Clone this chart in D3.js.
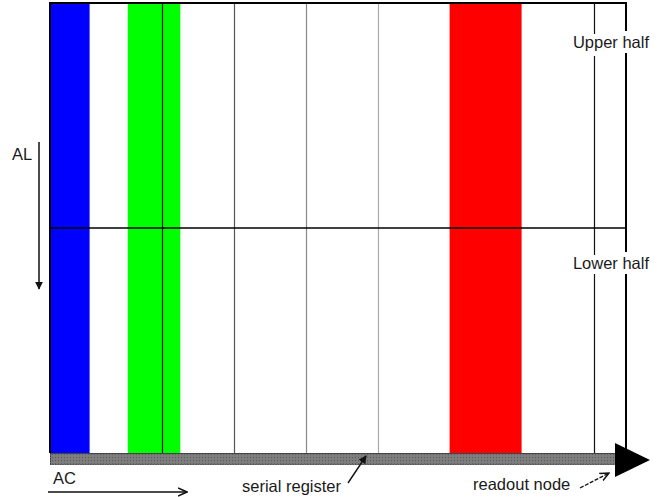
<!DOCTYPE html>
<html>
<head>
<meta charset="utf-8">
<script src="https://cdn.jsdelivr.net/npm/d3@7"></script>
<style>
  html, body { margin: 0; padding: 0; background: #fff; }
  svg { display: block; }
  text { font-family: "Liberation Sans", Arial, sans-serif; fill: #1a1a1a; }
</style>
</head>
<body>
<svg id="chart" width="661" height="497"></svg>
<script>
// ---- data ----
// column grid in column units (boundary k = k-th pixel column edge)
const frameDomain = [-0.55, 7.45];
const rowDomain = [0, 2];
const halves = ["Upper half", "Lower half"];
const halfRows = [0, 1];
// coloured pixel columns: [start, end] in column units
const bandNames = ["blue", "green", "red"];
const bandStart = [-0.55, 0.53, 5];
const bandEnd = [0, 1.26, 6];
const bandColors = ["#0000ff", "#00ff00", "#ff0000"];
// column boundary lines
const gridPos = [1, 2, 3, 4, 7];
const gridColors = ["#111", "#555", "#888", "#aaa", "#111"];
// annotation labels
const axisLabels = ["AL", "AC"];
const registerLabels = ["serial register", "readout node"];

// ---- layout ----
const svg = d3.select("#chart");
const mLeft = 50, mRight = 626, mTop = 3, mBottom = 453;
const x = d3.scaleLinear().domain(frameDomain).range([mLeft, mRight]);
const y = d3.scaleLinear().domain(rowDomain).range([mTop, mBottom]);

const defs = svg.append("defs");
const pat = defs.append("pattern").attr("id", "dots")
  .attr("width", 3).attr("height", 3).attr("patternUnits", "userSpaceOnUse");
pat.append("rect").attr("width", 3).attr("height", 3).attr("fill", "#7d7d7d");
pat.append("rect").attr("x", 1).attr("y", 1).attr("width", 1).attr("height", 1).attr("fill", "#5c5c5c");
defs.append("marker").attr("id", "arr").attr("viewBox", "0 0 10 10")
  .attr("refX", 9).attr("refY", 5).attr("markerWidth", 8).attr("markerHeight", 8)
  .attr("markerUnits", "userSpaceOnUse").attr("orient", "auto")
  .append("path").attr("d", "M0,0 L10,5 L0,10 Z").attr("fill", "#111");
defs.append("marker").attr("id", "arrOpen").attr("viewBox", "0 0 10 10")
  .attr("refX", 9).attr("refY", 5).attr("markerWidth", 10).attr("markerHeight", 10)
  .attr("markerUnits", "userSpaceOnUse").attr("orient", "auto")
  .append("path").attr("d", "M0,1 L9,5 L0,9").attr("fill", "none").attr("stroke", "#111").attr("stroke-width", 1.5);

// coloured bands
svg.selectAll("rect.band").data(bandNames).join("rect")
  .attr("class", "band")
  .attr("x", (d, i) => x(bandStart[i]))
  .attr("width", (d, i) => x(bandEnd[i]) - x(bandStart[i]))
  .attr("y", y(rowDomain[0]))
  .attr("height", y(rowDomain[1]) - y(rowDomain[0]))
  .attr("fill", (d, i) => bandColors[i]);

// grid lines
svg.selectAll("line.grid").data(gridPos).join("line")
  .attr("class", "grid")
  .attr("x1", d => Math.round(x(d)) + 0.5).attr("x2", d => Math.round(x(d)) + 0.5)
  .attr("y1", y(0)).attr("y2", y(2))
  .attr("stroke", (d, i) => gridColors[i]).attr("stroke-width", 1.2);

// middle split line
svg.append("line")
  .attr("x1", x(frameDomain[0])).attr("x2", x(frameDomain[1]))
  .attr("y1", y(1)).attr("y2", y(1))
  .attr("stroke", "#000").attr("stroke-width", 1.5);

// frame (top, left, right)
svg.append("path")
  .attr("d", `M${x(frameDomain[0])},${y(2)} L${x(frameDomain[0])},${y(0)} L${x(frameDomain[1])},${y(0)} L${x(frameDomain[1])},${y(2)}`)
  .attr("fill", "none").attr("stroke", "#000").attr("stroke-width", 2);

// half labels
svg.selectAll("text.half").data(halves).join("text")
  .attr("class", "half")
  .attr("x", 611)
  .attr("y", (d, i) => y(halfRows[i]) + 45 - (i === 0 ? 0 : 4))
  .attr("text-anchor", "middle")
  .attr("font-size", 16.5)
  .attr("stroke", "#fff").attr("stroke-width", 10)
  .attr("paint-order", "stroke")
  .text(d => d);

// serial register
const regTop = y(2), regH = 12;
svg.append("rect")
  .attr("x", x(frameDomain[0])).attr("y", regTop)
  .attr("width", 615 - x(frameDomain[0])).attr("height", regH)
  .attr("fill", "url(#dots)");
svg.append("line").attr("x1", x(frameDomain[0])).attr("x2", 615)
  .attr("y1", regTop + 0.5).attr("y2", regTop + 0.5)
  .attr("stroke", "#444").attr("stroke-width", 1);
svg.append("line").attr("x1", x(frameDomain[0])).attr("x2", 615)
  .attr("y1", regTop + regH - 0.5).attr("y2", regTop + regH - 0.5)
  .attr("stroke", "#555").attr("stroke-width", 1).attr("stroke-dasharray", "1.5,1");
svg.append("line").attr("x1", x(frameDomain[0]) + 0.5).attr("x2", x(frameDomain[0]) + 0.5)
  .attr("y1", regTop).attr("y2", regTop + regH)
  .attr("stroke", "#333").attr("stroke-dasharray", "1.5,1");

// readout triangle
svg.append("path")
  .attr("d", `M615,${regTop - 10} L650,${regTop + 7} L615,${regTop + 24} Z`)
  .attr("fill", "#000");

// AL label and arrow
svg.append("text").attr("x", 12).attr("y", 160).attr("font-size", 16.5).text(axisLabels[0]);
svg.append("line").attr("x1", 39).attr("x2", 39).attr("y1", 142).attr("y2", 289)
  .attr("stroke", "#111").attr("stroke-width", 1.5).attr("marker-end", "url(#arr)");

// AC label and arrow
svg.append("text").attr("x", 53).attr("y", 484).attr("font-size", 16.5).text(axisLabels[1]);
svg.append("line").attr("x1", 48).attr("x2", 187).attr("y1", 492).attr("y2", 492)
  .attr("stroke", "#111").attr("stroke-width", 1.5).attr("marker-end", "url(#arrOpen)");

// serial register label
svg.append("text").attr("x", 242).attr("y", 492).attr("font-size", 16.5).text(registerLabels[0]);
svg.append("line").attr("x1", 348).attr("y1", 483).attr("x2", 366).attr("y2", 456)
  .attr("stroke", "#111").attr("stroke-width", 1.4).attr("marker-end", "url(#arr)");

// readout node label
svg.append("text").attr("x", 473).attr("y", 490).attr("font-size", 16.5).text(registerLabels[1]);
svg.append("line").attr("x1", 580).attr("y1", 488).attr("x2", 609).attr("y2", 473)
  .attr("stroke", "#111").attr("stroke-width", 1.3).attr("stroke-dasharray", "4,1.5").attr("marker-end", "url(#arrOpen)");
</script>
</body>
</html>
